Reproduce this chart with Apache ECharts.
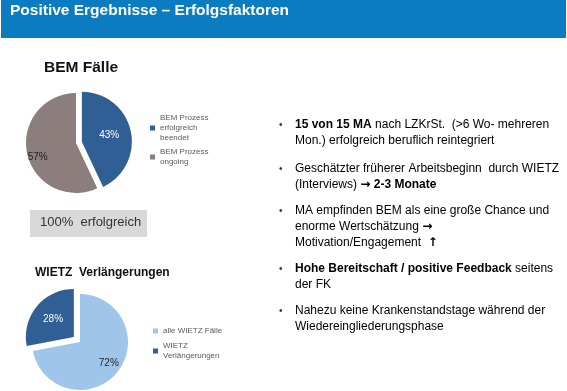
<!DOCTYPE html>
<html><head><meta charset="utf-8">
<script src="https://cdn.jsdelivr.net/npm/echarts@6/dist/echarts.min.js"></script>
<style>html,body{margin:0;padding:0;background:#fff}#c{width:567px;height:391px}</style>
</head><body><div id="c"></div>
<script>
const bemNames = ['BEM Prozess\nerfolgreich\nbeendet', 'BEM Prozess\nongoing'];
const bemValues = [43, 57];
const wietzNames = ['alle WIETZ Fälle', 'WIETZ\nVerlängerungen'];
const wietzValues = [72, 28];

const F = 'Liberation Sans, Arial, sans-serif';
const txt = '#333333';
const chart = echarts.init(document.getElementById('c'), null, {renderer: 'canvas'});

function rich() {
  return {
    b: {fontFamily: F, fontSize: 12, fontWeight: 'bold', color: txt, lineHeight: 16},
    n: {fontFamily: F, fontSize: 12, color: txt, lineHeight: 16},
    a: {fontFamily: 'DejaVu Sans', fontSize: 12, fontWeight: 'bold', color: txt, lineHeight: 16}
  };
}
const bullets = [
  {y: 117, lines: '{b|15 von 15 MA}{n| nach LZKrSt.  (>6 Wo- mehreren}\n{n|Mon.) erfolgreich beruflich reintegriert}'},
  {y: 161, lines: '{n|Geschätzter früherer Arbeitsbeginn  durch WIETZ}\n{n|(Interviews) }{a|→}{n| }{b|2-3 Monate}'},
  {y: 203, lines: '{n|MA empfinden BEM als eine große Chance und}\n{n|enorme Wertschätzung }{a|→}\n{n|Motivation/Engagement  }{a|↑}'},
  {y: 261, lines: '{b|Hohe Bereitschaft / positive Feedback}{n| seitens}\n{n|der FK}'},
  {y: 303, lines: '{n|Nahezu keine Krankenstandstage während der}\n{n|Wiedereingliederungsphase}'}
];
const graphics = [
  {type: 'rect', shape: {x: 1, y: 0, width: 565, height: 38}, style: {fill: '#0b7bc2'}},
  {type: 'text', x: 10, y: 3, style: {text: 'Positive Ergebnisse – Erfolgsfaktoren', font: 'bold 15.5px ' + F, fill: '#ffffff'}},
  {type: 'text', x: 44, y: 60, style: {text: 'BEM Fälle', font: 'bold 15.5px ' + F, fill: '#111'}},
  {type: 'rect', shape: {x: 30, y: 210, width: 117, height: 27}, style: {fill: '#d9d9d9'}},
  {type: 'text', x: 40, y: 216, style: {text: '100%  erfolgreich', font: '13px ' + F, fill: '#333'}},
  {type: 'text', x: 35, y: 267, style: {text: 'WIETZ  Verlängerungen', font: 'bold 12px ' + F, fill: '#111'}}
];
bullets.forEach(b => {
  graphics.push({type: 'text', x: 279, y: b.y + 3, style: {text: '•', font: '10px ' + F, fill: txt}});
  graphics.push({type: 'text', x: 295, y: b.y, style: {text: b.lines, rich: rich()}});
});

const legendText = {fontFamily: F, fontSize: 8, color: '#595959', lineHeight: 10};
chart.setOption({
  animation: false,
  graphic: graphics,
  legend: [
    {data: bemNames, left: 145, top: 108, orient: 'vertical', icon: 'rect', itemWidth: 5, itemHeight: 5, itemGap: 4, textStyle: legendText, selectedMode: false},
    {data: wietzNames, left: 148, top: 321, orient: 'vertical', icon: 'rect', itemWidth: 5, itemHeight: 5, itemGap: 5, textStyle: legendText, selectedMode: false}
  ],
  series: [
    {
      type: 'pie', center: [76, 143], radius: 50, startAngle: 90, clockwise: true,
      selectedMode: 'multiple', selectedOffset: 6,
      label: {position: 'inside', formatter: '{d}%', fontFamily: F, fontSize: 10},
      labelLine: {show: false},
      itemStyle: {borderWidth: 0},
      data: bemNames.map((n, i) => ({
        name: n, value: bemValues[i], selected: i === 0,
        itemStyle: {color: ['#2f5f95', '#8b7e7c'][i]},
        select: {itemStyle: {color: ['#2f5f95', '#8b7e7c'][i]}},
        label: {color: ['#ffffff', '#222222'][i], offset: [[3, -2], [-11, 8]][i]}
      }))
    },
    {
      type: 'pie', center: [80, 342], radius: 48, startAngle: 90, clockwise: true,
      selectedMode: 'multiple', selectedOffset: 8,
      label: {position: 'inside', formatter: '{d}%', fontFamily: F, fontSize: 10},
      labelLine: {show: false},
      itemStyle: {borderWidth: 0},
      data: wietzNames.map((n, i) => ({
        name: n, value: wietzValues[i], selected: i === 1,
        itemStyle: {color: ['#9fc5ea', '#2f5f95'][i]},
        select: {itemStyle: {color: ['#9fc5ea', '#2f5f95'][i]}},
        label: {color: ['#222222', '#ffffff'][i], offset: [[8, 4], [-6, 0]][i]}
      }))
    }
  ]
});
</script></body></html>
